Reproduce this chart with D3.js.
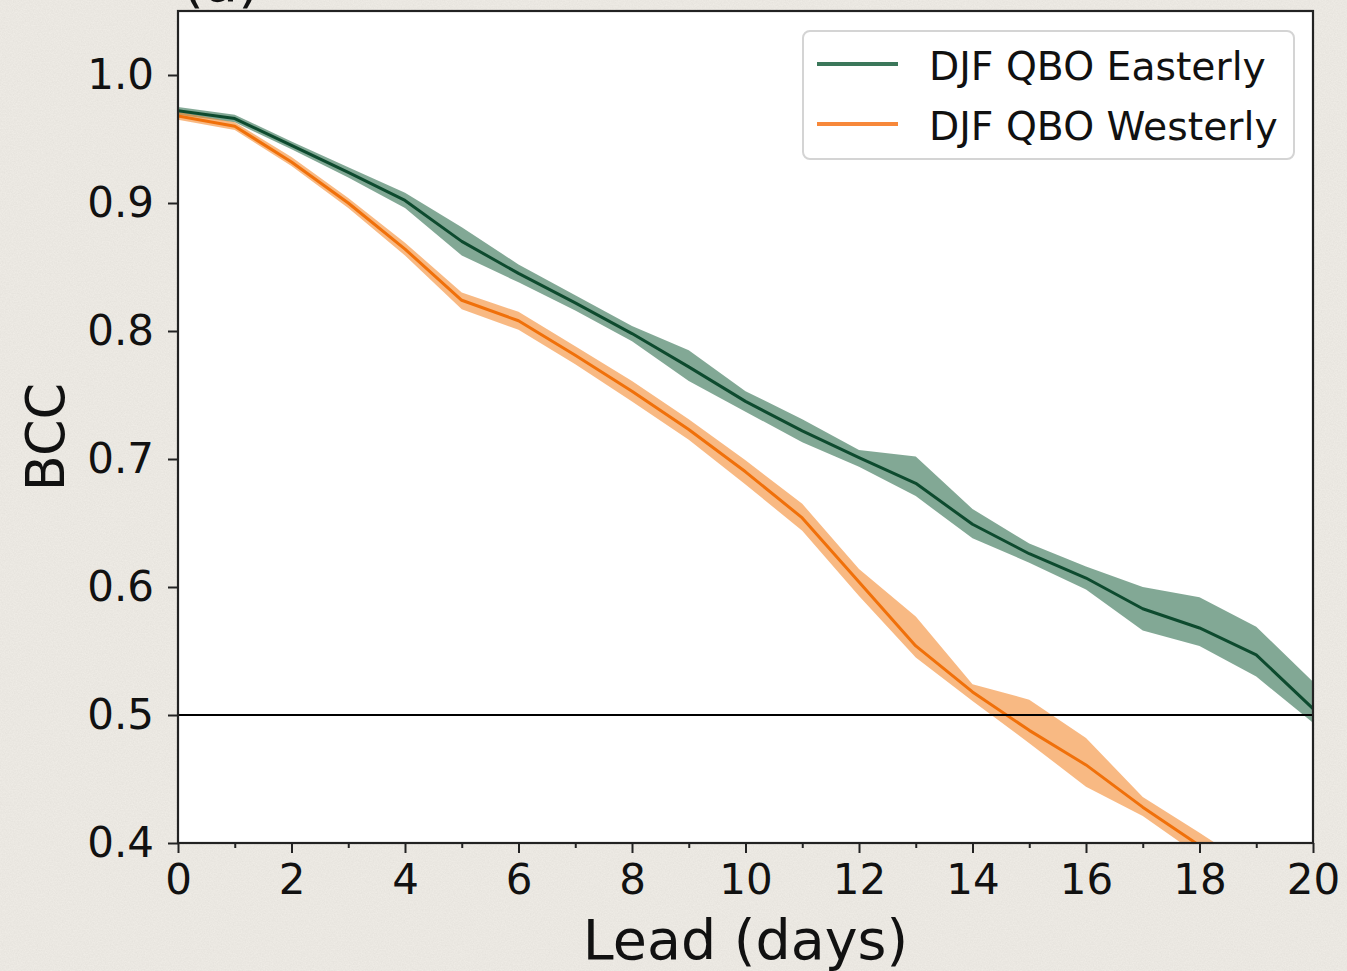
<!DOCTYPE html>
<html>
<head>
<meta charset="utf-8">
<script src="https://cdn.jsdelivr.net/npm/d3@7"></script>
<style>
  html, body { margin: 0; padding: 0; background: #eeebe5; }
  svg { display: block; }
  text { font-family: "DejaVu Sans", sans-serif; fill: #111; }
</style>
</head>
<body>
<svg id="chart" width="1347" height="971"></svg>
<script>
// Lead time in days
const lead = d3.range(0, 21);

// BCC for DJF QBO Easterly: mean and confidence bounds
const eastMean = [0.972, 0.966, 0.945, 0.924, 0.902, 0.870, 0.845, 0.822, 0.798, 0.772, 0.745,
                  0.722, 0.701, 0.681, 0.649, 0.626, 0.607, 0.583, 0.568, 0.547, 0.505];
const eastLow  = [0.969, 0.963, 0.942, 0.920, 0.896, 0.859, 0.838, 0.816, 0.792, 0.761, 0.737,
                  0.713, 0.694, 0.671, 0.638, 0.619, 0.598, 0.566, 0.554, 0.530, 0.494];
const eastHigh = [0.975, 0.969, 0.948, 0.928, 0.908, 0.881, 0.852, 0.828, 0.804, 0.785, 0.753,
                  0.731, 0.707, 0.702, 0.661, 0.634, 0.616, 0.600, 0.592, 0.569, 0.526];

// BCC for DJF QBO Westerly: mean and confidence bounds
const westMean = [0.968, 0.960, 0.932, 0.900, 0.864, 0.824, 0.808, 0.781, 0.753, 0.723, 0.690,
                  0.654, 0.604, 0.554, 0.518, 0.488, 0.461, 0.428, 0.398, 0.370, 0.340];
const westLow  = [0.965, 0.957, 0.929, 0.896, 0.859, 0.817, 0.801, 0.774, 0.745, 0.715, 0.680,
                  0.644, 0.593, 0.545, 0.511, 0.478, 0.444, 0.421, 0.390, 0.362, 0.332];
const westHigh = [0.971, 0.963, 0.936, 0.904, 0.869, 0.830, 0.815, 0.788, 0.761, 0.731, 0.699,
                  0.665, 0.614, 0.577, 0.524, 0.512, 0.482, 0.436, 0.408, 0.379, 0.349];

const seriesNames = ["DJF QBO Easterly", "DJF QBO Westerly"];
const xTicks = [0, 2, 4, 6, 8, 10, 12, 14, 16, 18, 20];
const xMinorTicks = [1, 3, 5, 7, 9, 11, 13, 15, 17, 19];
const yTicks = [0.4, 0.5, 0.6, 0.7, 0.8, 0.9, 1.0];
const threshold = 0.5;

const series = [
  { name: seriesNames[0], mean: eastMean, low: eastLow, high: eastHigh,
    line: "#0d4a2e", fill: "#2f6e4f", legend: "#3b775a" },
  { name: seriesNames[1], mean: westMean, low: westLow, high: westHigh,
    line: "#f0700a", fill: "#f38a30", legend: "#f7883a" }
];

const svg = d3.select("#chart");
const W = 1347, H = 971;
const plot = { left: 178, right: 1313, top: 11, bottom: 843 };

// Paper-like background
const defs = svg.append("defs");
const f = defs.append("filter").attr("id", "grain").attr("x", 0).attr("y", 0)
  .attr("width", "100%").attr("height", "100%");
f.append("feTurbulence").attr("type", "fractalNoise").attr("baseFrequency", 0.75)
  .attr("numOctaves", 3).attr("seed", 7);
f.append("feColorMatrix").attr("type", "matrix")
  .attr("values", "0 0 0 0 0.45  0 0 0 0 0.43  0 0 0 0 0.40  0.22 0 0 0 -0.05");
svg.append("rect").attr("width", W).attr("height", H).attr("fill", "#eeebe5");
svg.append("rect").attr("width", W).attr("height", H).attr("filter", "url(#grain)");

defs.append("clipPath").attr("id", "plotClip").append("rect")
  .attr("x", plot.left).attr("y", plot.top)
  .attr("width", plot.right - plot.left).attr("height", plot.bottom - plot.top);

const x = d3.scaleLinear().domain([0, 20]).range([plot.left, plot.right]);
const y = d3.scaleLinear().domain([0.4, 1.05]).range([plot.bottom, plot.top]);

// Axes background
svg.append("rect").attr("x", plot.left).attr("y", plot.top)
  .attr("width", plot.right - plot.left).attr("height", plot.bottom - plot.top)
  .attr("fill", "#ffffff");

// "(a)" panel tag, partly cut off at the top
svg.append("text").attr("x", 182).attr("y", 1).attr("font-size", 56).text("(a)");

const g = svg.append("g").attr("clip-path", "url(#plotClip)");

const area = (s) => d3.area()
  .x((d, i) => x(lead[i]))
  .y0((d, i) => y(s.low[i]))
  .y1((d, i) => y(s.high[i]));
const line = (s) => d3.line()
  .x((d, i) => x(lead[i]))
  .y((d, i) => y(s.mean[i]));

series.forEach(s => {
  g.append("path").datum(s.mean).attr("d", area(s))
    .attr("fill", s.fill).attr("fill-opacity", 0.6).attr("stroke", "none");
});
series.forEach(s => {
  g.append("path").datum(s.mean).attr("d", line(s))
    .attr("fill", "none").attr("stroke", s.line).attr("stroke-width", 3)
    .attr("stroke-linejoin", "round");
});

// Reference line at BCC = 0.5
g.append("line")
  .attr("x1", plot.left).attr("x2", plot.right)
  .attr("y1", y(threshold)).attr("y2", y(threshold))
  .attr("stroke", "#000").attr("stroke-width", 2.2);

// Axes
const tickFont = 42;
const xAxis = svg.append("g").attr("transform", `translate(0,${plot.bottom})`)
  .call(d3.axisBottom(x).tickValues(xTicks).tickSize(10).tickPadding(11)
    .tickFormat(d3.format("d")));
xAxis.append("g").call(d3.axisBottom(x).tickValues(xMinorTicks).tickSize(5).tickFormat(""));
const yAxis = svg.append("g").attr("transform", `translate(${plot.left},0)`)
  .call(d3.axisLeft(y).tickValues(yTicks).tickSize(10).tickPadding(14)
    .tickFormat(d3.format(".1f")));

[xAxis, yAxis].forEach(a => {
  a.selectAll(".domain").remove();
  a.selectAll("line").attr("stroke", "#222").attr("stroke-width", 2);
  a.selectAll("text").attr("font-size", tickFont).attr("fill", "#111")
    .attr("font-family", "DejaVu Sans");
});

// Frame
svg.append("rect").attr("x", plot.left).attr("y", plot.top)
  .attr("width", plot.right - plot.left).attr("height", plot.bottom - plot.top)
  .attr("fill", "none").attr("stroke", "#222").attr("stroke-width", 2.2);

// Axis titles
svg.append("text").attr("x", (plot.left + plot.right) / 2).attr("y", 959)
  .attr("text-anchor", "middle").attr("font-size", 55.5).text("Lead (days)");
svg.append("text").attr("transform", "translate(64,437) rotate(-90)")
  .attr("text-anchor", "middle").attr("font-size", 52.5).text("BCC");

// Legend
const lg = svg.append("g");
lg.append("rect").attr("x", 803).attr("y", 31).attr("width", 491).attr("height", 128)
  .attr("rx", 7).attr("fill", "#ffffff").attr("fill-opacity", 0.85)
  .attr("stroke", "#d4d4d4").attr("stroke-width", 2);
series.forEach((s, i) => {
  const cy = 64 + i * 60;
  lg.append("line").attr("x1", 817).attr("x2", 898).attr("y1", cy).attr("y2", cy)
    .attr("stroke", s.legend).attr("stroke-width", 4);
  lg.append("text").attr("x", 929).attr("y", cy + 2).attr("dy", "0.36em")
    .attr("font-size", 39.3).text(s.name);
});
</script>
</body>
</html>
